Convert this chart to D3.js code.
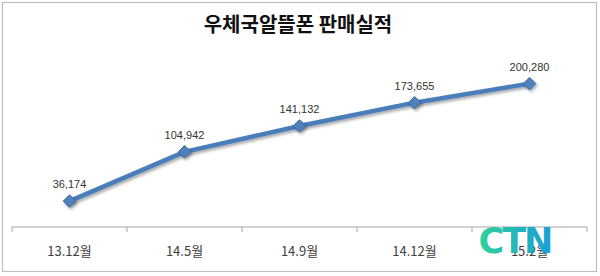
<!DOCTYPE html>
<html><head><meta charset="utf-8">
<script src="https://cdn.jsdelivr.net/npm/d3@7"></script>
<style>body{margin:0;background:#fff}svg{display:block}</style>
</head><body>
<svg id="c" width="600" height="276"></svg>
<script>
const title = "우체국알뜰폰 판매실적";
const categories = ["13.12월", "14.5월", "14.9월", "14.12월", "15.2월"];
const values = [36174, 104942, 141132, 173655, 200280];
const yDomain = [0, 250000];

const svg = d3.select("#c");
const defs = svg.append("defs");
const f = defs.append("filter").attr("id","sh").attr("x","-20%").attr("y","-20%").attr("width","140%").attr("height","160%");
f.append("feDropShadow").attr("dx",1.5).attr("dy",2).attr("stdDeviation",1.5).attr("flood-color","#000").attr("flood-opacity",0.35);
const g1 = defs.append("linearGradient").attr("id","logo").attr("x1","0").attr("y1","0").attr("x2","1").attr("y2","0");
g1.append("stop").attr("offset","0%").attr("stop-color","#2fd19a");
g1.append("stop").attr("offset","100%").attr("stop-color","#1a9fd6");

// frame
svg.append("rect").attr("x",2.5).attr("y",2.5).attr("width",594).attr("height",269)
  .attr("fill","#fff").attr("stroke","#bdbdbd").attr("stroke-width",1.2);

svg.append("text").attr("x",298).attr("y",32).attr("text-anchor","middle")
  .attr("font-family","'Noto Sans CJK KR', sans-serif").attr("font-weight","bold")
  .attr("font-size",20).attr("fill","#111").text(title);

const axisY = 227;
const x = d3.scaleBand().domain(categories).range([12, 587]);
const y = d3.scaleLinear().domain(yDomain).range([axisY, 48]);

// axis
const ag = svg.append("g").attr("transform",`translate(0,${axisY})`);
ag.append("line").attr("x1",12).attr("x2",587).attr("stroke","#a6a6a6").attr("stroke-width",1);
const bounds = categories.map(c => x(c)).concat([x(categories[categories.length-1]) + x.bandwidth()]);
ag.selectAll("line.tk").data(bounds).join("line").attr("class","tk")
  .attr("x1",d=>d).attr("x2",d=>d).attr("y1",0).attr("y2",5).attr("stroke","#a6a6a6");
ag.selectAll("text.lb").data(categories).join("text").attr("class","lb")
  .attr("x",d=>x(d)+x.bandwidth()/2).attr("y",29).attr("text-anchor","middle")
  .attr("font-family","'Noto Sans CJK KR', sans-serif").attr("font-size",13).attr("fill","#404040")
  .text(d=>d);

const cx = d => x(d) + x.bandwidth()/2;
const pts = categories.map((c,i)=>[cx(c), y(values[i])]);
const line = d3.line();
svg.append("path").attr("d", line(pts)).attr("fill","none")
  .attr("stroke","#4a7ebb").attr("stroke-width",4.5).attr("stroke-linejoin","round").attr("filter","url(#sh)");

const sym = d3.symbol().type(d3.symbolDiamond2).size(100);
svg.selectAll("path.m").data(pts).join("path").attr("class","m")
  .attr("transform",d=>`translate(${d[0]},${d[1]})`).attr("d",sym)
  .attr("fill","#4f81bd").attr("stroke","#3a6aa5").attr("stroke-width",1).attr("filter","url(#sh)");

const fmt = d3.format(",");
svg.selectAll("text.v").data(values).join("text").attr("class","v")
  .attr("x",(d,i)=>pts[i][0]).attr("y",(d,i)=>pts[i][1]-13).attr("text-anchor","middle")
  .attr("font-family","'Liberation Sans', sans-serif").attr("font-size",11).attr("fill","#333")
  .text(d=>fmt(d));

// watermark logo
svg.append("text").attr("x",515).attr("y",253).attr("text-anchor","middle")
  .attr("font-family","'DejaVu Sans', sans-serif").attr("font-weight","bold")
  .attr("font-size",35).attr("letter-spacing",-2).attr("fill","url(#logo)").text("CTN");
</script>
</body></html>
